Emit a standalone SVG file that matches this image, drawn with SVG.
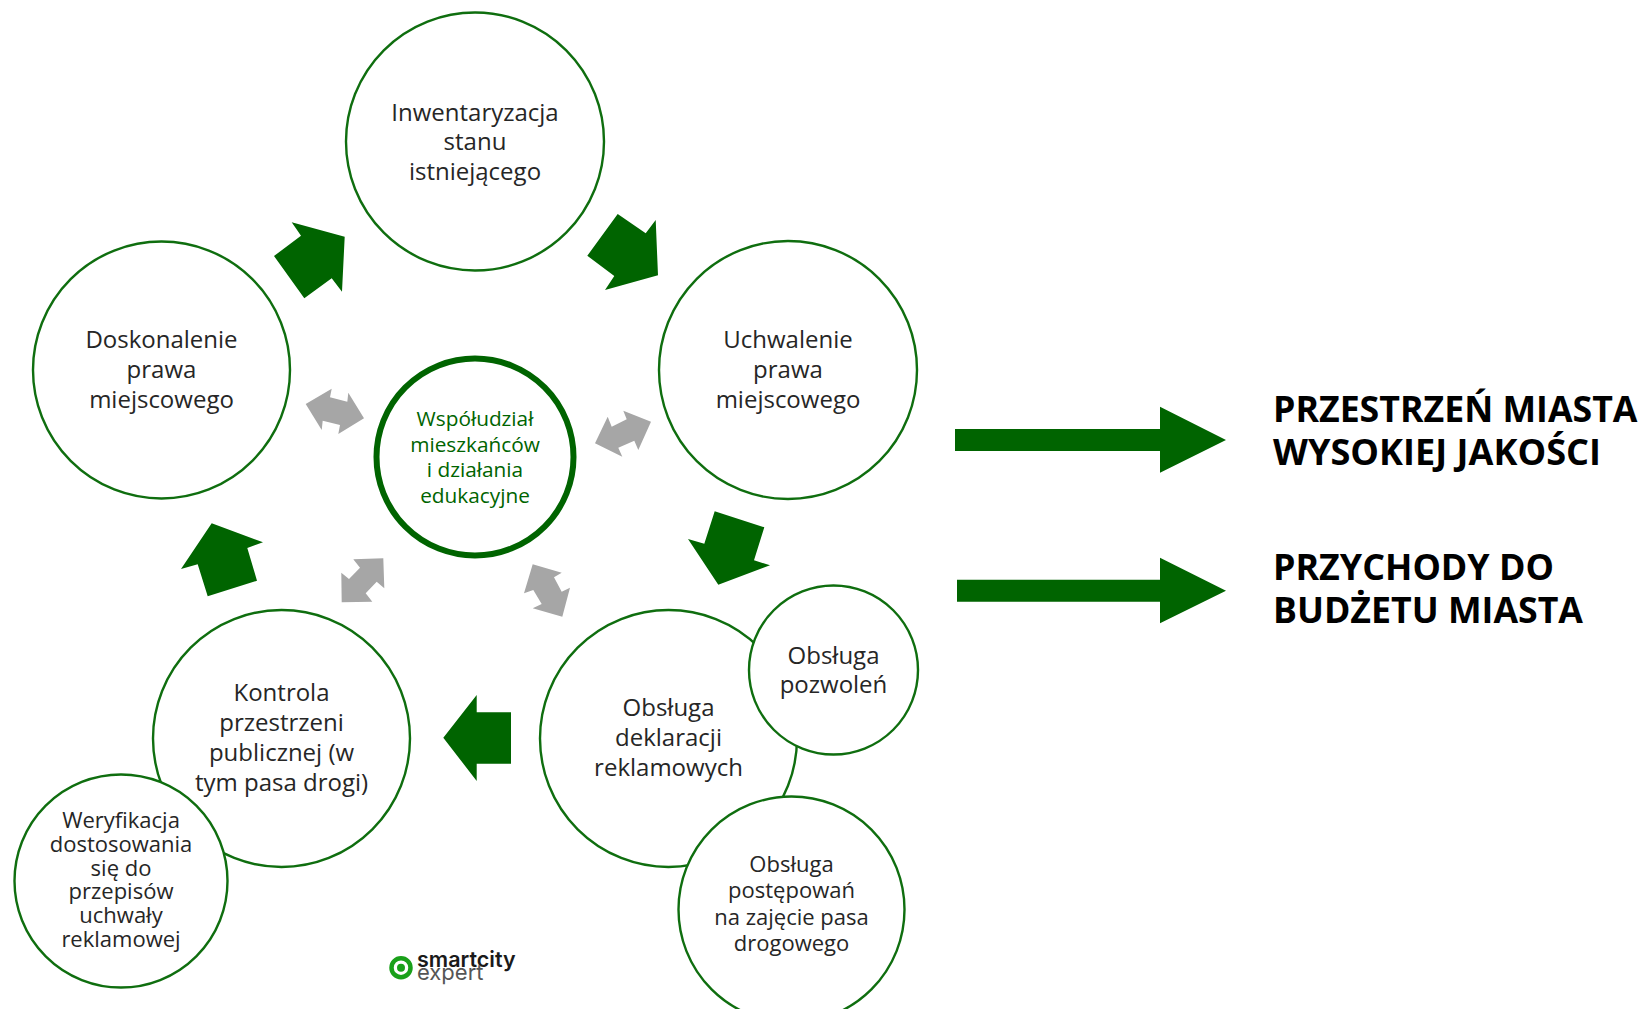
<svg xmlns="http://www.w3.org/2000/svg" width="1643" height="1009" viewBox="0 0 1643 1009">
<style>
.c{fill:#fff;stroke:#0f6e0f;stroke-width:2.4}
.t{font-family:"Open Sans","Liberation Sans",sans-serif;font-size:24px;fill:#262626;text-anchor:middle}
.s{font-size:22px}
.w{font-size:20.8px;fill:#006400}
.m{fill:#006400}
.g{fill:#a6a6a6}
.h{font-family:"Open Sans","Liberation Sans",sans-serif;font-size:35.7px;font-weight:700;fill:#000}
</style>
<rect width="1643" height="1009" fill="#fff"/>
<g id="connectors">
<polygon class="m" points="291.7,222.3 344.7,236.7 342,291.7 331.7,278.3 304.3,298.3 274,256 301,235.7"/>
<polygon class="m" points="617.7,214 645.7,233.3 655.7,220 658,275.3 605,290 614.3,276 587.3,255.7"/>
<polygon class="m" points="714.7,511.3 764.3,527.3 754,560.3 770,565.3 718.3,584.7 688,539 704.3,543.7"/>
<polygon class="m" points="443.3,737.7 476.7,695 476.7,712.3 511,712.3 511,763.7 476.7,763.7 476.7,781"/>
<polygon class="m" points="211.7,523.3 263,542.3 247.3,548 257,580.7 207.7,596.3 197.7,564.3 181,569"/>
<polygon class="g" points="305.7,404 331.7,388.7 330,397.3 347.3,401.7 348.3,392.7 364,418.3 338.3,434 340,425 322.7,420.7 321.7,430"/>
<polygon class="g" points="595,443.3 607.7,416.7 611.7,426.7 626.7,419.3 623.3,410.7 651,421.7 638.3,450 634.3,440.7 618.3,447.7 622.3,456.7"/>
<polygon class="g" points="341.7,602.3 341.3,572.7 349,579 360,567.7 353.3,559.3 383.3,558.3 384.3,588.3 376.7,581.7 365.7,593.3 372.3,601.7"/>
<polygon class="g" points="532.7,564.3 561.7,572.7 554,577.3 561.7,591.7 570,587.7 562.3,616.7 532.7,608.3 541.7,604 533.3,590 524,593.3"/>
<polygon class="m" points="955,429 1160,429 1160,406.7 1226,440 1160,472.7 1160,451 955,451"/>
<polygon class="m" points="957,579.700 1160,579.700 1160,557.700 1226,590.700 1160,623.300 1160,601.700 957,601.700"/>
</g>
<g id="node-inwentaryzacja">
<circle class="c" cx="475" cy="141.500" r="129"/>
<text class="t" x="475" y="120.500">Inwentaryzacja</text>
<text class="t" x="475" y="150">stanu</text>
<text class="t" x="475" y="180">istniejącego</text>
</g>
<g id="node-uchwalenie">
<circle class="c" cx="788" cy="370" r="129"/>
<text class="t" x="788" y="348">Uchwalenie</text>
<text class="t" x="788" y="378">prawa</text>
<text class="t" x="788" y="408">miejscowego</text>
</g>
<g id="node-doskonalenie">
<circle class="c" cx="161.500" cy="370" r="128.500"/>
<text class="t" x="161.500" y="348">Doskonalenie</text>
<text class="t" x="161.500" y="378">prawa</text>
<text class="t" x="161.500" y="408">miejscowego</text>
</g>
<g id="node-wspoludzial">
<circle cx="475" cy="457" r="98.500" fill="#fff" stroke="#006400" stroke-width="6"/>
<text class="t w" x="475" y="426">Współudział</text>
<text class="t w" x="475" y="451.500">mieszkańców</text>
<text class="t w" x="475" y="477">i działania</text>
<text class="t w" x="475" y="502.500">edukacyjne</text>
</g>
<g id="node-kontrola">
<circle class="c" cx="281.500" cy="738.500" r="128.500"/>
<text class="t" x="281.500" y="701">Kontrola</text>
<text class="t" x="281.500" y="731">przestrzeni</text>
<text class="t" x="281.500" y="761">publicznej (w</text>
<text class="t" x="281.500" y="791">tym pasa drogi)</text>
</g>
<g id="node-weryfikacja">
<circle class="c" cx="121" cy="881" r="106.500"/>
<text class="t s" x="121" y="828">Weryfikacja</text>
<text class="t s" x="121" y="851.700">dostosowania</text>
<text class="t s" x="121" y="875.500">się do</text>
<text class="t s" x="121" y="899.300">przepisów</text>
<text class="t s" x="121" y="923">uchwały</text>
<text class="t s" x="121" y="946.500">reklamowej</text>
</g>
<g id="node-deklaracje">
<circle class="c" cx="668.500" cy="738.500" r="128.500"/>
<text class="t" x="668.500" y="716">Obsługa</text>
<text class="t" x="668.500" y="746">deklaracji</text>
<text class="t" x="668.500" y="776">reklamowych</text>
</g>
<g id="node-pozwolenia">
<circle class="c" cx="833.500" cy="670" r="84.500"/>
<text class="t" x="833.500" y="664">Obsługa</text>
<text class="t" x="833.500" y="693">pozwoleń</text>
</g>
<g id="node-postepowania">
<circle class="c" cx="791.500" cy="909.500" r="113"/>
<text class="t s" x="791.500" y="872">Obsługa</text>
<text class="t s" x="791.500" y="898">postępowań</text>
<text class="t s" x="791.500" y="924.500">na zajęcie pasa</text>
<text class="t s" x="791.500" y="950.500">drogowego</text>
</g>
<g id="outcome-przestrzen">
<text class="h" x="1273" y="422">PRZESTRZEŃ MIASTA</text>
<text class="h" x="1273" y="465" textLength="328" lengthAdjust="spacingAndGlyphs">WYSOKIEJ JAKOŚCI</text>
</g>
<g id="outcome-przychody">
<text class="h" x="1273" y="580" textLength="281" lengthAdjust="spacingAndGlyphs">PRZYCHODY DO</text>
<text class="h" x="1273" y="623">BUDŻETU MIASTA</text>
</g>
<g id="logo">
<circle cx="401" cy="967.700" r="9.500" fill="none" stroke="#1aa01a" stroke-width="4.500"/>
<circle cx="401" cy="967.700" r="4" fill="#1aa01a"/>
<text x="417" y="966.500" font-family="Inter,'Liberation Sans',sans-serif" font-size="21.5px" font-weight="600" fill="#1a1a1a">smartcity</text>
<text x="417" y="980" font-family="Inter,'Liberation Sans',sans-serif" font-size="22px" fill="#555">expert</text>
</g>
</svg>
